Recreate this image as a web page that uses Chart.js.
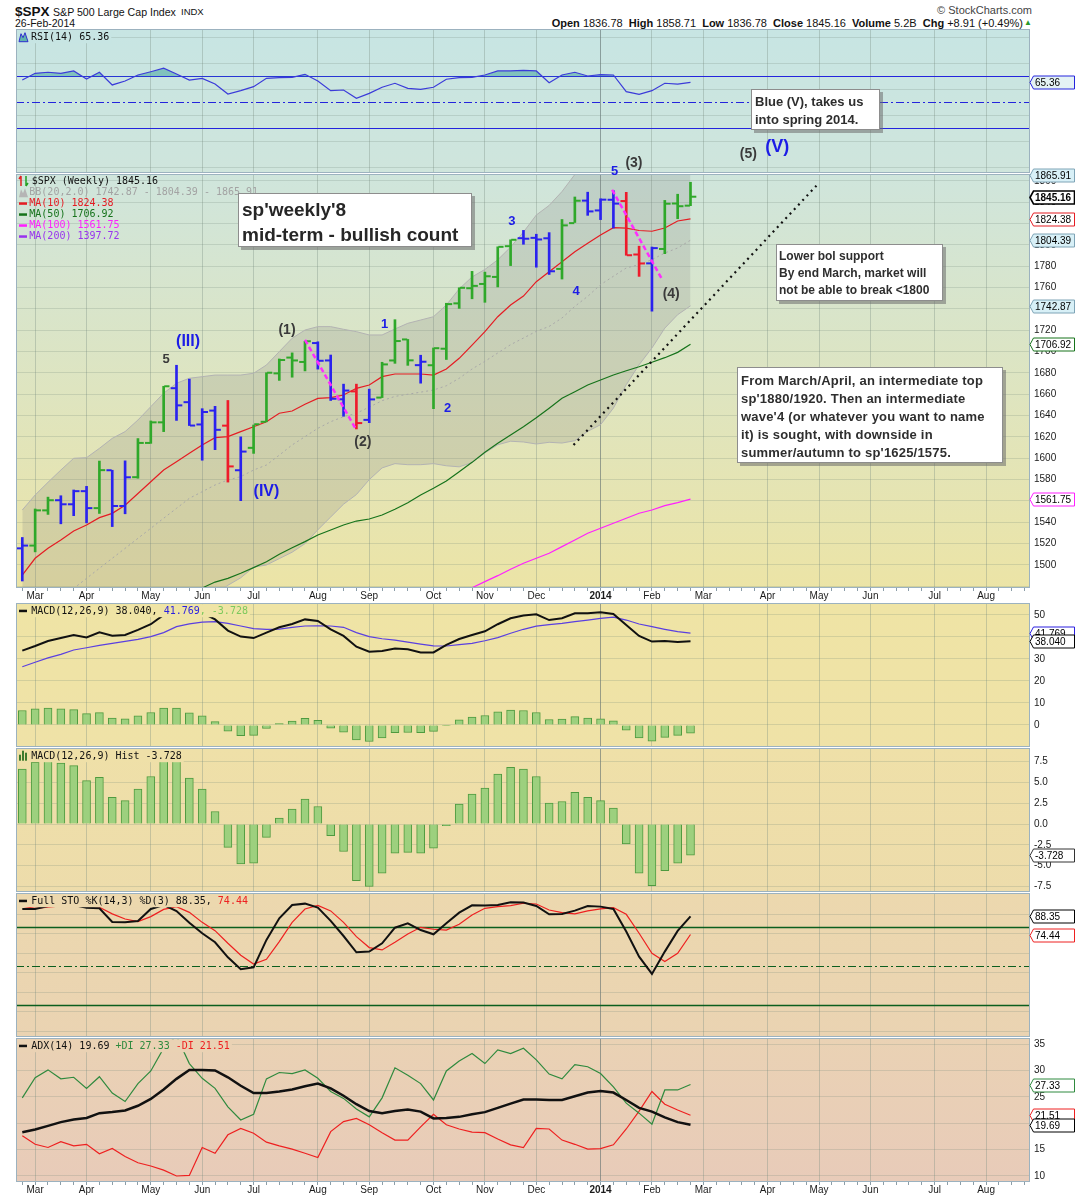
<!DOCTYPE html>
<html>
<head>
<meta charset="utf-8">
<title>$SPX weekly</title>
<script src="https://cdn.jsdelivr.net/npm/chart.js@4.4.1/dist/chart.umd.min.js"></script>
<style>
  html, body { margin: 0; padding: 0; background: #fff; }
  #page { position: relative; width: 1075px; height: 1200px; overflow: hidden; font-family: 'Liberation Sans', Arial, sans-serif; color: #111; }
  canvas { position: absolute; left: 16px; }
  .t { position: absolute; white-space: nowrap; }
  .note { position: absolute; z-index: 5; box-sizing: border-box; background: #fff; border: 1px solid #8d8d8d;
          box-shadow: 3px 3px 0 rgba(110,110,110,0.55); color: #2e2e2e; font-weight: bold; white-space: nowrap; }
  .wave { position: absolute; z-index: 6; transform: translate(-50%, -50%); font-weight: bold; white-space: nowrap; line-height: 1; }
</style>
</head>
<body>
<div id="page">
  <div class="t" style="left:15px;top:3px;font-size:13.5px;font-weight:bold;line-height:17px">$SPX</div>
  <div class="t" style="left:53px;top:5px;font-size:10.6px;line-height:14px">S&amp;P 500 Large Cap Index</div>
  <div class="t" style="left:181px;top:6px;font-size:9.5px;line-height:12px">INDX</div>
  <div class="t" style="left:15px;top:17px;font-size:10.5px;line-height:13px">26-Feb-2014</div>
  <div class="t" style="right:43px;top:4px;font-size:11px;line-height:13px;color:#444">&copy; StockCharts.com</div>
  <div class="t" id="ohlc" style="right:52px;top:17px;font-size:11px;line-height:13px"></div>
  <div class="t" style="left:1024px;top:18px;font-size:8px;line-height:10px;color:#2a9a2a">&#9650;</div>

  <div class="note" style="left:238px;top:193px;width:234px;height:54px;padding:3px 0 0 3px;font-size:19px;line-height:25px;color:#262626">sp'weekly'8<br>mid-term - bullish count</div>
  <div class="note" style="left:751px;top:89px;width:129px;height:41px;padding:3px 0 0 3px;font-size:13px;line-height:18px">Blue (V), takes us<br>into spring 2014.</div>
  <div class="note" style="left:776px;top:244px;width:167px;height:57px;padding:3px 0 0 2px;font-size:12px;line-height:17px">Lower bol support<br>By end March, market will<br>not be able to break &lt;1800</div>
  <div class="note" style="left:737px;top:367px;width:266px;height:96px;padding:4px 0 0 3px;font-size:13px;line-height:18px;letter-spacing:0.2px">From March/April, an intermediate top<br>sp'1880/1920. Then an intermediate<br>wave'4 (or whatever you want to name<br>it) is sought, with downside in<br>summer/autumn to sp'1625/1575.</div>
</div>
<script>
// ---- data (weekly bars, Monday dates) ----
const weeks = ['2013-02-25','2013-03-04','2013-03-11','2013-03-18','2013-03-25','2013-04-01','2013-04-08','2013-04-15','2013-04-22','2013-04-29',
  '2013-05-06','2013-05-13','2013-05-20','2013-05-28','2013-06-03','2013-06-10','2013-06-17','2013-06-24','2013-07-01','2013-07-08',
  '2013-07-15','2013-07-22','2013-07-29','2013-08-05','2013-08-12','2013-08-19','2013-08-26','2013-09-03','2013-09-09','2013-09-16',
  '2013-09-23','2013-09-30','2013-10-07','2013-10-14','2013-10-21','2013-10-28','2013-11-04','2013-11-11','2013-11-18','2013-11-25',
  '2013-12-02','2013-12-09','2013-12-16','2013-12-23','2013-12-30','2014-01-06','2014-01-13','2014-01-21','2014-01-27','2014-02-03',
  '2014-02-10','2014-02-18','2014-02-24'];

const opens = [1515.6, 1518.2, 1551.2, 1560.7, 1556.9, 1569.2, 1553.3, 1588.8, 1555.3, 1582.3,
  1614.4, 1633.7, 1665.7, 1652.6, 1631.7, 1644.7, 1630.6, 1588.8, 1609.8, 1634.2,
  1679.6, 1694.4, 1690.3, 1708.0, 1691.7, 1655.3, 1662.7, 1636.0, 1656.9, 1691.7,
  1711.4, 1687.3, 1687.2, 1702.7, 1745.2, 1759.4, 1763.4, 1770.0, 1798.8, 1806.3,
  1806.6, 1806.2, 1777.5, 1820.4, 1841.5, 1832.3, 1842.3, 1841.1, 1791.0, 1782.7,
  1796.2, 1838.8, 1836.78];
const highs = [1525.8, 1552.5, 1563.6, 1564.9, 1570.3, 1573.7, 1597.4, 1588.8, 1597.6, 1618.5,
  1635.0, 1667.5, 1687.2, 1674.2, 1646.5, 1648.7, 1654.2, 1620.1, 1631.2, 1680.2,
  1693.1, 1698.8, 1709.7, 1709.2, 1696.8, 1669.5, 1669.5, 1664.8, 1690.0, 1729.9,
  1711.4, 1696.6, 1703.4, 1745.3, 1759.8, 1775.2, 1774.5, 1798.2, 1804.8, 1813.6,
  1810.0, 1811.5, 1823.8, 1844.9, 1849.4, 1843.2, 1850.8, 1849.3, 1798.8, 1798.0,
  1841.7, 1847.5, 1858.71];
const lows = [1485.0, 1512.3, 1547.4, 1538.6, 1546.2, 1539.5, 1548.3, 1536.0, 1548.0, 1581.3,
  1614.0, 1625.0, 1635.5, 1630.7, 1598.2, 1608.1, 1577.7, 1560.3, 1604.6, 1634.2,
  1673.0, 1676.0, 1681.9, 1683.6, 1654.2, 1639.4, 1627.5, 1633.4, 1656.9, 1689.0,
  1687.1, 1670.4, 1646.5, 1692.6, 1740.5, 1749.5, 1746.2, 1760.6, 1780.6, 1800.6,
  1779.1, 1772.3, 1768.0, 1821.0, 1827.7, 1823.7, 1815.8, 1790.3, 1770.5, 1737.9,
  1791.8, 1824.6, 1836.78];
const closes = [1518.2, 1551.2, 1560.7, 1556.9, 1569.2, 1553.3, 1588.9, 1555.3, 1582.2, 1614.4,
  1633.7, 1667.5, 1649.6, 1630.7, 1643.4, 1626.7, 1592.4, 1606.3, 1631.9, 1680.2,
  1692.1, 1691.7, 1709.7, 1691.4, 1655.8, 1663.5, 1633.0, 1655.2, 1688.0, 1709.9,
  1691.8, 1690.5, 1703.2, 1744.5, 1759.8, 1761.6, 1770.6, 1798.2, 1804.8, 1805.8,
  1805.1, 1775.3, 1818.3, 1841.4, 1831.4, 1842.4, 1838.7, 1790.3, 1782.6, 1797.0,
  1838.6, 1836.25, 1845.16];
// bar colouring state per week (g = green, b = blue, r = red)
const impulse = ['b','g','g','b','b','b','g','b','b','g',
  'g','g','b','b','b','b','r','b','g','g',
  'g','g','g','b','b','b','r','b','g','g',
  'g','b','g','g','g','g','g','g','g','b',
  'b','b','g','g','b','b','b','r','r','b',
  'g','g','g'];

const ma10 = [1490.6, 1506.3, 1515.6, 1523.4, 1531.9, 1537.5, 1544.4, 1548.4, 1556.0, 1567.0,
  1578.0, 1589.0, 1596.8, 1604.7, 1612.5, 1619.3, 1620.3, 1625.0, 1629.6, 1634.3,
  1642.2, 1644.3, 1650.6, 1656.2, 1656.8, 1659.3, 1665.6, 1668.7, 1676.5, 1679.0,
  1679.0, 1679.0, 1678.0, 1683.7, 1693.7, 1706.0, 1718.7, 1732.7, 1743.7, 1752.0,
  1765.5, 1774.9, 1784.3, 1793.6, 1801.5, 1809.3, 1816.2, 1815.8, 1813.5, 1812.8,
  1815.8, 1822.4, 1824.38];
const ma50 = [null, null, null, null, null, null, null, null, null, null,
  null, null, null, 1472.0, 1478.5, 1484.0, 1487.5, 1492.2, 1497.5, 1503.1,
  1510.0, 1516.2, 1521.9, 1528.1, 1532.8, 1537.5, 1541.2, 1543.1, 1546.9, 1552.2,
  1558.4, 1565.6, 1571.9, 1578.7, 1587.4, 1596.2, 1605.6, 1614.0, 1621.8, 1629.6,
  1638.0, 1646.9, 1656.2, 1662.4, 1668.7, 1673.4, 1678.1, 1682.1, 1685.8, 1690.0,
  1694.3, 1699.3, 1706.92];
const ma100 = [null, null, null, null, null, null, null, null, null, null,
  null, null, null, null, null, null, null, null, null, null,
  null, null, null, null, null, null, null, null, null, null,
  null, null, null, null, 1473.0, 1478.7, 1484.4, 1490.0, 1496.0, 1501.6,
  1506.3, 1511.0, 1517.2, 1523.4, 1529.7, 1534.4, 1539.1, 1543.8, 1548.5, 1551.5,
  1555.6, 1558.5, 1561.75];
const ma200Last = 1397.72;
const bbUpper = [1551.5, 1565.6, 1577.5, 1589.0, 1600.0, 1600.6, 1609.3, 1618.7, 1625.0, 1635.9,
  1648.4, 1661.0, 1670.3, 1675.0, 1676.5, 1678.0, 1678.0, 1678.0, 1679.7, 1687.4,
  1700.0, 1712.5, 1720.2, 1723.4, 1723.4, 1720.9, 1718.7, 1715.6, 1715.6, 1721.2,
  1726.5, 1729.6, 1732.7, 1743.7, 1758.7, 1770.0, 1777.0, 1786.0, 1798.0, 1812.0,
  1828.0, 1837.0, 1850.0, 1866.0, 1878.0, 1894.0, 1894.0, 1888.0, 1875.0, 1869.0,
  1868.0, 1867.0, 1865.91];
const bbMid = [1448.0, 1455.0, 1462.0, 1470.0, 1478.0, 1487.5, 1496.9, 1506.3, 1515.6, 1525.0,
  1534.4, 1543.8, 1553.1, 1562.5, 1568.7, 1575.0, 1579.7, 1582.8, 1589.0, 1593.7,
  1603.0, 1612.5, 1620.3, 1628.1, 1634.3, 1639.0, 1642.2, 1648.0, 1654.0, 1658.0,
  1660.0, 1662.0, 1664.0, 1668.0, 1675.0, 1683.7, 1690.9, 1698.7, 1706.5, 1712.7,
  1719.0, 1723.6, 1731.5, 1742.4, 1751.8, 1762.7, 1770.6, 1778.4, 1781.5, 1786.2,
  1792.4, 1797.1, 1804.39];
const bbLower = [1345, 1344, 1347, 1351, 1356, 1374, 1385, 1393, 1407, 1414,
  1420, 1427, 1436, 1450, 1461, 1472, 1481, 1488, 1498, 1500,
  1506, 1512, 1520, 1533, 1545, 1557, 1566, 1580, 1591, 1595,
  1594, 1594, 1595, 1593, 1592, 1596, 1605, 1612.7, 1616, 1615.3,
  1613.4, 1615, 1614.3, 1616.5, 1625.3, 1631.5, 1647, 1669, 1687.7, 1703.4,
  1722, 1734.6, 1742.87];

const rsi = [67.2, 72.4, 73.2, 72.4, 74.2, 68.0, 73.2, 63.4, 66.4, 71.1,
  73.6, 76.3, 71.8, 67.2, 68.5, 64.1, 56.4, 59.0, 62.1, 68.5,
  69.1, 69.3, 71.6, 66.4, 59.0, 59.5, 53.1, 56.9, 61.6, 64.7,
  60.8, 60.0, 61.6, 67.8, 69.1, 69.3, 71.1, 74.2, 74.2, 74.7,
  74.2, 65.1, 71.1, 73.2, 70.3, 71.3, 71.1, 58.2, 56.2, 59.0,
  64.7, 64.1, 65.36];

const macd = [33.8, 35.9, 38.2, 39.5, 40.9, 39.8, 42.1, 40.6, 40.9, 43.2,
  45.8, 50.0, 52.4, 51.5, 51.0, 48.0, 42.9, 40.2, 39.5, 42.0,
  44.4, 45.9, 48.0, 47.3, 43.5, 40.5, 35.6, 33.3, 33.6, 34.8,
  34.4, 33.0, 33.0, 36.4, 39.1, 40.9, 42.6, 45.8, 48.5, 49.8,
  50.3, 47.7, 48.5, 50.8, 50.8, 51.2, 50.5, 45.5, 40.5, 37.9,
  38.2, 37.7, 38.04];
const macdSignal = [26.5, 28.5, 30.5, 32.1, 34.1, 35.1, 36.2, 37.1, 38.0, 38.9,
  40.2, 42.0, 44.7, 46.0, 46.8, 47.0, 46.2, 45.0, 43.8, 43.5,
  43.6, 44.4, 45.0, 45.1, 45.0, 44.4, 42.0, 40.2, 39.2, 38.6,
  37.7, 36.8, 36.0, 35.9, 36.5, 37.1, 38.3, 39.7, 41.7, 43.5,
  44.9, 45.6, 46.2, 47.0, 47.7, 48.5, 49.0, 47.7, 45.9, 44.7,
  43.5, 42.4, 41.769];
const macdHist = [6.6, 7.4, 7.7, 7.3, 7.0, 5.2, 5.6, 3.2, 2.8, 4.2,
  5.7, 7.7, 7.7, 5.5, 4.2, 1.5, -2.8, -4.8, -4.7, -1.6,
  0.7, 1.8, 3.0, 2.1, -1.4, -3.3, -6.8, -7.5, -5.9, -3.5,
  -3.4, -3.5, -2.9, -0.2, 2.4, 3.6, 4.3, 6.0, 6.8, 6.6,
  5.7, 2.5, 2.7, 3.8, 3.2, 2.8, 1.9, -2.4, -5.9, -7.4,
  -5.6, -4.7, -3.728];

const stoK = [94.1, 94.1, 96.4, 96.9, 97.2, 95.1, 94.6, 84.1, 83.8, 84.9,
  94.1, 97.2, 92.5, 83.5, 75.4, 68.5, 56.9, 47.7, 49.2, 70.3,
  86.9, 97.2, 98.2, 95.1, 84.9, 73.3, 60.8, 61.3, 67.7, 79.7,
  83.1, 77.9, 74.6, 83.1, 91.3, 96.9, 96.7, 97.2, 99.2, 99.0,
  96.4, 90.0, 90.3, 92.8, 96.4, 95.9, 94.1, 76.7, 57.4, 44.1,
  61.3, 77.2, 88.35];
const stoD = [96.2, 94.6, 95.4, 96.4, 96.7, 96.4, 95.4, 90.3, 86.4, 84.4,
  88.2, 93.8, 95.9, 91.5, 83.8, 77.4, 67.7, 58.5, 51.8, 55.4,
  69.0, 83.8, 94.1, 96.9, 92.6, 83.8, 72.8, 64.4, 62.6, 68.5,
  74.9, 80.0, 78.5, 77.9, 82.3, 89.5, 94.6, 95.9, 96.7, 98.5,
  97.9, 93.3, 91.3, 90.3, 92.6, 94.1, 95.1, 90.0, 75.4, 60.0,
  53.6, 60.0, 74.44];

const adx = [18.3, 18.8, 19.5, 20.2, 20.7, 21.0, 21.9, 22.1, 22.4, 23.3,
  24.6, 26.4, 28.4, 30.1, 30.1, 30.0, 28.7, 27.1, 25.7, 25.7,
  26.0, 26.4, 27.0, 27.5, 26.6, 25.2, 23.6, 22.3, 21.9, 22.3,
  22.6, 22.2, 20.9, 21.0, 21.2, 21.7, 22.1, 22.9, 23.7, 24.5,
  24.5, 24.4, 24.4, 25.1, 25.8, 26.1, 25.8, 24.4, 22.9, 22.2,
  21.1, 20.2, 19.69];
const plusDI = [24.8, 28.6, 30.1, 28.4, 28.7, 26.6, 28.8, 25.7, 24.1, 27.5,
  29.9, 34.2, 36.5, 31.3, 28.5, 26.6, 23.1, 20.6, 21.7, 28.4,
  29.6, 29.4, 30.1, 28.5, 26.0, 24.7, 22.7, 21.2, 24.8, 30.5,
  29.1, 27.5, 24.4, 29.9, 31.8, 33.2, 31.3, 33.9, 33.2, 34.2,
  32.0, 29.3, 28.4, 31.1, 30.7, 29.4, 26.9, 23.8, 21.9, 19.8,
  26.3, 26.3, 27.33];
const minusDI = [17.6, 16.0, 15.4, 16.5, 15.7, 16.0, 14.2, 15.2, 13.7, 12.5,
  11.9, 11.1, 10.0, 10.1, 15.4, 14.3, 17.8, 19.0, 18.1, 16.4,
  15.7, 15.1, 14.3, 13.5, 18.4, 20.3, 20.9, 19.7, 18.2, 16.8,
  16.8, 19.3, 21.7, 19.7, 18.9, 18.3, 18.2, 17.0, 15.9, 15.4,
  19.0, 18.9, 16.8, 16.0, 15.1, 15.2, 15.9, 18.9, 22.3, 26.0,
  23.6, 22.5, 21.51];

// x axis: month ticks (bar index) incl. the empty future area
const monthTickIdx = [1, 5, 10, 14, 18, 23, 27, 32, 36, 40, 45, 49, 53, 58, 62, 66, 71, 75];
const monthTickText = ['Mar','Apr','May','Jun','Jul','Aug','Sep','Oct','Nov','Dec','2014','Feb','Mar','Apr','May','Jun','Jul','Aug'];
const priceTicks = [1480,1500,1520,1540,1560,1580,1600,1620,1640,1660,1680,1700,1720,1740,1760,1780,1800,1820,1840,1860];
const rsiTicks = [0,10,20,30,40,50,60,70,80,90,100];
const macdTicks = [0,10,20,30,40,50];
const histTicks = [-7.5,-5,-2.5,0,2.5,5,7.5];
const stoTicks = [0,5,10,15,20,25,30,35,40,45,50,55,60,65,70,75,80,85,90,95,100];
const adxTicks = [10,15,20,25,30,35];

// chart annotations (in data coordinates)
const trendLines = [
  { from: [22, 1711], to: [26, 1626.5], kind: 'dash' },
  { from: [45.9, 1851.7], to: [49.8, 1767.4], kind: 'dash' },
  { from: [42.9, 1612.5], to: [61.8, 1855.5], kind: 'dots' }
];
const waveLabels = [
  { i: 11.2, v: 1694, t: '5', blue: false, size: 13 },
  { i: 12.9, v: 1710, t: '(III)', blue: true, size: 16 },
  { i: 20.6, v: 1721, t: '(1)', blue: false, size: 14 },
  { i: 19.0, v: 1569, t: '(IV)', blue: true, size: 16 },
  { i: 26.5, v: 1616, t: '(2)', blue: false, size: 14 },
  { i: 28.2, v: 1727, t: '1', blue: true, size: 13 },
  { i: 33.1, v: 1648, t: '2', blue: true, size: 13 },
  { i: 38.1, v: 1823, t: '3', blue: true, size: 13 },
  { i: 43.1, v: 1758, t: '4', blue: true, size: 13 },
  { i: 46.1, v: 1870, t: '5', blue: true, size: 13 },
  { i: 47.6, v: 1878, t: '(3)', blue: false, size: 14 },
  { i: 50.5, v: 1755, t: '(4)', blue: false, size: 14 },
  { i: 56.5, v: 1886, t: '(5)', blue: false, size: 14 },
  { i: 58.75, v: 1893, t: '(V)', blue: true, size: 18 }
];

// ---- layout ----
const PAD = 8;
const X_MIN = -0.49, X_MAX = 78.42;
const last = a => a[a.length - 1];
const IMPULSE_COLORS = { g: '#2fa82a', b: '#2a22ee', r: '#ee1b2b' };
const page = document.getElementById('page');
const panels = {};

const chg = last(closes) - closes[closes.length - 2];
document.getElementById('ohlc').innerHTML =
  '<b>Open</b> ' + last(opens).toFixed(2) + ' &nbsp;<b>High</b> ' + last(highs).toFixed(2) +
  ' &nbsp;<b>Low</b> ' + last(lows).toFixed(2) + ' &nbsp;<b>Close</b> ' + last(closes).toFixed(2) +
  ' &nbsp;<b>Volume</b> 5.2B &nbsp;<b>Chg</b> +' + chg.toFixed(2) +
  ' (+' + (chg / closes[closes.length - 2] * 100).toFixed(2) + '%)';

function monthLabelAt(v) {
  const k = monthTickIdx.indexOf(v);
  return k < 0 ? '' : monthTickText[k];
}

function xAxis(labels) {
  return {
    type: 'linear', min: X_MIN, max: X_MAX, offset: false,
    afterBuildTicks: s => { const t = []; for (let i = 0; i <= 78; i++) t.push({ value: i }); s.ticks = t; },
    afterFit: s => { s.height = labels ? 16 : 0; s.paddingLeft = 0; s.paddingRight = 0; },
    border: { display: false },
    grid: {
      offset: false, drawTicks: labels, tickLength: 3, tickColor: '#8c9ea8',
      color: c => {
        const lab = c.tick ? monthLabelAt(c.tick.value) : '';
        if (!lab) return 'rgba(0,0,0,0)';
        return lab === '2014' ? 'rgba(95,110,110,0.6)' : 'rgba(120,140,130,0.35)';
      }
    },
    ticks: {
      display: labels, autoSkip: false, maxRotation: 0, padding: -0.5, color: '#1a1a1a',
      font: c => ({ family: 'Liberation Sans', size: 10, weight: (c.tick && monthLabelAt(c.tick.value) === '2014') ? 'bold' : 'normal' }),
      callback: v => monthLabelAt(v)
    }
  };
}

function yAxis(min, max, ticks, fmt) {
  return {
    position: 'right', min, max,
    afterBuildTicks: s => { s.ticks = ticks.map(v => ({ value: v })); },
    afterFit: s => { s.width = 45; s.paddingTop = 0; s.paddingBottom = 0; },
    border: { display: false },
    grid: { drawTicks: false, color: 'rgba(110,130,120,0.22)' },
    ticks: { padding: 4, color: '#1a1a1a', font: { family: 'Liberation Sans', size: 10 }, callback: fmt }
  };
}

const pts = (arr, dx) => arr.map((v, i) => ({ x: i + (dx || 0), y: v }));
const line = (arr, color, width, extra) => Object.assign(
  { type: 'line', data: pts(arr), borderColor: color, borderWidth: width, pointRadius: 0, pointHoverRadius: 0, fill: false, tension: 0, order: 1 },
  extra || {});

function drawTag(ctx, x, y, t) {
  const h = 13, L = x + 3.5, R = x + 44.5;
  ctx.beginPath();
  ctx.moveTo(x, y); ctx.lineTo(L, y - h / 2); ctx.lineTo(R, y - h / 2);
  ctx.lineTo(R, y + h / 2); ctx.lineTo(L, y + h / 2); ctx.closePath();
  ctx.fillStyle = t.fill || '#fff'; ctx.fill();
  ctx.lineWidth = t.bold ? 1.6 : 1; ctx.strokeStyle = t.line; ctx.stroke();
  ctx.fillStyle = '#000';
  ctx.font = (t.bold ? 'bold ' : '') + '10px "Liberation Sans"';
  ctx.textAlign = 'left'; ctx.textBaseline = 'middle';
  ctx.fillText(t.text, L + 1.5, y + 0.5);
}

function drawIcon(ctx, kind, x0, y, color) {
  ctx.save();
  if (kind === 'dash') {
    ctx.fillStyle = color; ctx.fillRect(x0 + 3, y - 1, 8, 2.5);
  } else if (kind === 'rsi' || kind === 'bb') {
    ctx.beginPath();
    ctx.moveTo(x0 + 3, y + 5); ctx.lineTo(x0 + 5, y - 3); ctx.lineTo(x0 + 7, y + 1);
    ctx.lineTo(x0 + 9, y - 4); ctx.lineTo(x0 + 12, y + 5); ctx.closePath();
    ctx.fillStyle = kind === 'rsi' ? '#5fb3ad' : '#b5b5b5'; ctx.fill();
    if (kind === 'rsi') { ctx.strokeStyle = '#2f2fd0'; ctx.lineWidth = 1; ctx.stroke(); }
  } else if (kind === 'arrows') {
    ctx.strokeStyle = '#e02020'; ctx.lineWidth = 1.5;
    ctx.beginPath(); ctx.moveTo(x0 + 5, y + 5); ctx.lineTo(x0 + 5, y - 5); ctx.moveTo(x0 + 3, y - 2); ctx.lineTo(x0 + 5, y - 5); ctx.stroke();
    ctx.strokeStyle = '#20a020';
    ctx.beginPath(); ctx.moveTo(x0 + 10, y - 5); ctx.lineTo(x0 + 10, y + 5); ctx.moveTo(x0 + 12, y + 2); ctx.lineTo(x0 + 10, y + 5); ctx.stroke();
  } else if (kind === 'hist') {
    ctx.fillStyle = '#3c7a2c';
    ctx.fillRect(x0 + 3, y - 1, 2, 6); ctx.fillRect(x0 + 6, y - 5, 2, 10); ctx.fillRect(x0 + 9, y - 3, 2, 8);
  }
  ctx.restore();
}

const panelPlugin = {
  id: 'panel',
  beforeDraw(chart) {
    const p = panels[chart.canvas.id], a = chart.chartArea, ctx = chart.ctx;
    const g = ctx.createLinearGradient(0, a.top, 0, a.bottom);
    g.addColorStop(0, p.bg[0]); g.addColorStop(1, p.bg[1]);
    ctx.save(); ctx.fillStyle = g; ctx.fillRect(a.left, a.top, a.right - a.left, a.bottom - a.top); ctx.restore();
  },
  beforeDatasetsDraw(chart) {
    const p = panels[chart.canvas.id], a = chart.chartArea, ctx = chart.ctx, y = chart.scales.y;
    ctx.save();
    (p.refs || []).forEach(r => {
      const py = Math.round(y.getPixelForValue(r.v)) + 0.5;
      ctx.strokeStyle = r.color; ctx.lineWidth = r.width; ctx.setLineDash(r.dash || []);
      ctx.beginPath(); ctx.moveTo(a.left, py); ctx.lineTo(a.right, py); ctx.stroke();
    });
    ctx.restore();
  },
  afterDatasetsDraw(chart) {
    const p = panels[chart.canvas.id], a = chart.chartArea, ctx = chart.ctx;
    if (p.draw) p.draw(chart);
    ctx.save();
    ctx.font = '10px "DejaVu Sans Mono"';
    ctx.textBaseline = 'middle'; ctx.textAlign = 'left';
    (p.legend || []).forEach(row => {
      const y = a.top + row.dy;
      let x = a.left + row.x;
      if (!p.noLegendBg) {
        const w = row.parts.reduce((s, q) => s + ctx.measureText(q[0]).width, 0);
        ctx.fillStyle = p.bg[0]; ctx.fillRect(a.left + 1, y - 6.5, row.x + w + 1, 13);
      }
      if (row.icon) drawIcon(ctx, row.icon, a.left, y, row.parts[0][1]);
      row.parts.forEach(q => { ctx.fillStyle = q[1]; ctx.fillText(q[0], x, y + 0.5); x += ctx.measureText(q[0]).width; });
    });
    ctx.strokeStyle = '#9cb2bf'; ctx.lineWidth = 1;
    ctx.strokeRect(a.left + 0.5, a.top + 0.5, a.right - a.left - 1, a.bottom - a.top - 1);
    ctx.restore();
  },
  afterDraw(chart) {
    const p = panels[chart.canvas.id], a = chart.chartArea, ctx = chart.ctx, y = chart.scales.y;
    ctx.save();
    (p.tags || []).forEach(t => drawTag(ctx, a.right, Math.round(y.getPixelForValue(t.v)) + 0.5, t));
    ctx.restore();
  }
};

function panelChart(id, top, plotH, withAxis, datasets, yScale, cfg) {
  const c = document.createElement('canvas');
  c.id = id; c.width = 1059; c.height = PAD + plotH + (withAxis ? 16 : 0);
  c.style.top = (top - PAD) + 'px';
  page.appendChild(c);
  panels[id] = cfg;
  return new Chart(c, {
    type: 'line',
    data: { datasets },
    options: {
      responsive: false, animation: false, events: [],
      layout: { autoPadding: false, padding: { top: PAD, left: 0, right: 0, bottom: 0 } },
      plugins: { legend: { display: false }, tooltip: { enabled: false } },
      scales: { x: xAxis(withAxis), y: yScale }
    },
    plugins: [panelPlugin]
  });
}

function drawTrendLines(chart) {
  const { ctx, chartArea: a } = chart, x = chart.scales.x, y = chart.scales.y;
  ctx.save();
  ctx.beginPath(); ctx.rect(a.left, a.top, a.right - a.left, a.bottom - a.top); ctx.clip();
  trendLines.forEach(t => {
    ctx.beginPath();
    ctx.moveTo(x.getPixelForValue(t.from[0]), y.getPixelForValue(t.from[1]));
    ctx.lineTo(x.getPixelForValue(t.to[0]), y.getPixelForValue(t.to[1]));
    if (t.kind === 'dots') { ctx.strokeStyle = '#111'; ctx.lineWidth = 2.2; ctx.setLineDash([2, 4.2]); }
    else { ctx.strokeStyle = '#ff2cff'; ctx.lineWidth = 2.5; ctx.setLineDash([5, 3]); }
    ctx.stroke();
  });
  ctx.restore();
}

const BLACK = '#111';
const barCols = impulse.map(k => IMPULSE_COLORS[k]);
const histBars = () => ({ type: 'bar', data: pts(macdHist), backgroundColor: '#9dd07e', borderColor: '#4f9a3f',
  borderWidth: 1, barThickness: 8, grouped: false, order: 2 });
const tickSet = (arr, dx) => ({ type: 'line', data: pts(arr, dx), showLine: false, pointStyle: 'line', pointRadius: 2.6,
  pointHoverRadius: 0, pointBorderWidth: 2, pointBorderColor: barCols, order: 0 });

// RSI
panelChart('rsi', 29, 144, false,
  [line(rsi, '#3b3bd9', 1.2, { fill: { target: { value: 70 }, above: 'rgba(70,165,160,0.55)', below: 'rgba(0,0,0,0)' } })],
  yAxis(-4.59, 106.6, rsiTicks, v => (v % 20 === 10 ? String(v) : '')),
  { bg: ['#c7e5e3', '#cfe5dc'],
    refs: [{ v: 70, color: '#2424dd', width: 1 }, { v: 30, color: '#2424dd', width: 1 }, { v: 50, color: '#2424dd', width: 1, dash: [8, 3, 2, 3] }],
    legend: [{ x: 15, dy: 7.7, icon: 'rsi', parts: [['RSI(14) ' + last(rsi).toFixed(2), BLACK]] }],
    tags: [{ v: last(rsi), text: last(rsi).toFixed(2), line: '#2424dd', fill: '#e4f2f4' }] });

// price
const priceChart = panelChart('price', 174, 414, true, [
  { type: 'bar', data: lows.map((l, i) => ({ x: i, y: [l, highs[i]] })), backgroundColor: barCols, barThickness: 2, grouped: false, order: 0 },
  tickSet(opens, -0.25),
  tickSet(closes, 0.25),
  line(ma10, '#e51c23', 1.2),
  line(ma50, '#16731b', 1.2),
  line(ma100, '#ff1fff', 1.2),
  line(bbMid, '#a9a9a9', 1, { borderDash: [2, 3], order: 2 }),
  line(bbUpper, '#b3b3b3', 1, { order: 3 }),
  line(bbLower, '#b3b3b3', 1, { order: 3, fill: '-1', backgroundColor: 'rgba(125,125,125,0.2)' })
], yAxis(1478.44, 1866.45, priceTicks, v => (v === 1480 ? '' : String(v))), {
  bg: ['#cfe5dc', '#ece4a6'], noLegendBg: true, draw: drawTrendLines,
  legend: [
    { x: 15.7, dy: 7, icon: 'arrows', parts: [['$SPX (Weekly) ' + last(closes).toFixed(2), BLACK]] },
    { x: 13.3, dy: 18.3, icon: 'bb', parts: [['BB(20,2.0) ' + last(bbLower).toFixed(2) + ' - ' + last(bbMid).toFixed(2) + ' - ' + last(bbUpper).toFixed(2), '#a3a3a3']] },
    { x: 13.3, dy: 29.3, icon: 'dash', parts: [['MA(10) ' + last(ma10).toFixed(2), '#e51c23']] },
    { x: 13.3, dy: 40.3, icon: 'dash', parts: [['MA(50) ' + last(ma50).toFixed(2), '#16731b']] },
    { x: 13.3, dy: 51.3, icon: 'dash', parts: [['MA(100) ' + last(ma100).toFixed(2), '#ff1fff']] },
    { x: 13.3, dy: 62.3, icon: 'dash', parts: [['MA(200) ' + ma200Last.toFixed(2), '#9933ee']] }
  ],
  tags: [
    { v: last(bbUpper), text: last(bbUpper).toFixed(2), line: '#7fa4b6', fill: '#d8f0f7' },
    { v: last(closes), text: last(closes).toFixed(2), line: '#000', fill: '#fff', bold: true },
    { v: last(ma10), text: last(ma10).toFixed(2), line: '#e51c23', fill: '#fff' },
    { v: last(bbMid), text: last(bbMid).toFixed(2), line: '#7fa4b6', fill: '#d8f0f7' },
    { v: last(bbLower), text: last(bbLower).toFixed(2), line: '#7fa4b6', fill: '#d8f0f7' },
    { v: last(ma50), text: last(ma50).toFixed(2), line: '#16731b', fill: '#fff' },
    { v: last(ma100), text: last(ma100).toFixed(2), line: '#ff1fff', fill: '#fff' }
  ] });

// MACD
panelChart('macd', 603, 144, false,
  [line(macd, BLACK, 2), line(macdSignal, '#5a3fe0', 1.2), histBars()],
  yAxis(-10, 55.45, macdTicks, v => String(v)),
  { bg: ['#efe4a5', '#efe2a7'],
    legend: [{ x: 15.2, dy: 7.7, icon: 'dash', parts: [['MACD(12,26,9) ' + last(macd).toFixed(3) + ', ', BLACK], [last(macdSignal).toFixed(3), '#2a1fe0'], [', ' + last(macdHist).toFixed(3), '#7cc95c']] }],
    tags: [{ v: last(macdSignal), text: last(macdSignal).toFixed(3), line: '#2a1fe0', fill: '#fff' },
           { v: last(macd), text: last(macd).toFixed(3), line: '#000', fill: '#fff' }] });

// MACD histogram
panelChart('hist', 748, 144, false,
  [histBars()],
  yAxis(-8.16, 9.12, histTicks, v => v.toFixed(1)),
  { bg: ['#efe0a8', '#eddcab'],
    legend: [{ x: 15.2, dy: 7.7, icon: 'hist', parts: [['MACD(12,26,9) Hist ' + last(macdHist).toFixed(3), BLACK]] }],
    tags: [{ v: last(macdHist), text: last(macdHist).toFixed(3), line: '#333', fill: '#fff' }] });

// Full stochastics
panelChart('sto', 893, 144, false,
  [line(stoK, BLACK, 2), line(stoD, '#ee2020', 1.2)],
  yAxis(-4.38, 106.38, stoTicks, v => (v === 20 || v === 50 || v === 80 ? String(v) : '')),
  { bg: ['#ecd8ae', '#ead3b2'],
    refs: [{ v: 80, color: '#0b5e1e', width: 1.5 }, { v: 20, color: '#0b5e1e', width: 1.5 }, { v: 50, color: '#0b5e1e', width: 1.2, dash: [8, 3, 2, 3] }],
    legend: [{ x: 15.2, dy: 7.7, icon: 'dash', parts: [['Full STO %K(14,3) %D(3) ' + last(stoK).toFixed(2) + ', ', BLACK], [last(stoD).toFixed(2), '#ee2020']] }],
    tags: [{ v: last(stoK), text: last(stoK).toFixed(2), line: '#000', fill: '#fff' },
           { v: last(stoD), text: last(stoD).toFixed(2), line: '#ee2020', fill: '#fff' }] });

// ADX
panelChart('adx', 1038, 144, true,
  [line(adx, BLACK, 2.5), line(plusDI, '#2f8a3e', 1.2), line(minusDI, '#ee2020', 1.2)],
  yAxis(8.86, 36.14, adxTicks, v => String(v)),
  { bg: ['#ead2b4', '#e8cbb9'],
    legend: [{ x: 15.2, dy: 7.7, icon: 'dash', parts: [['ADX(14) ' + last(adx).toFixed(2) + ' ', BLACK], ['+DI ' + last(plusDI).toFixed(2) + ' ', '#2f8a3e'], ['-DI ' + last(minusDI).toFixed(2), '#ee2020']] }],
    tags: [{ v: last(plusDI), text: last(plusDI).toFixed(2), line: '#2f8a3e', fill: '#fff' },
           { v: last(minusDI), text: last(minusDI).toFixed(2), line: '#ee2020', fill: '#fff' },
           { v: last(adx), text: last(adx).toFixed(2), line: '#000', fill: '#fff' }] });

// Elliott wave labels, positioned through the price chart's scales
waveLabels.forEach(w => {
  const d = document.createElement('div');
  d.className = 'wave';
  d.textContent = w.t;
  d.style.left = (16 + priceChart.scales.x.getPixelForValue(w.i)) + 'px';
  d.style.top = (174 - PAD + priceChart.scales.y.getPixelForValue(w.v)) + 'px';
  d.style.fontSize = w.size + 'px';
  d.style.color = w.blue ? '#1c1ce6' : '#3a3a3a';
  page.appendChild(d);
});
</script>
</body>
</html>
